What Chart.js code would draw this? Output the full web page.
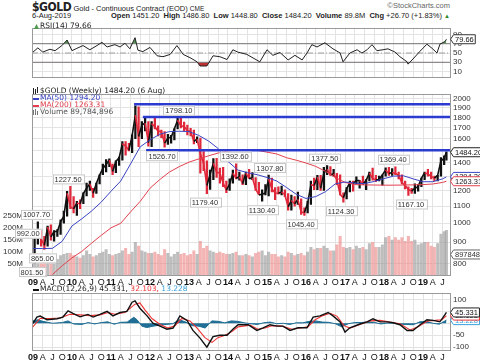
<!DOCTYPE html>
<html lang="en">
<head>
<meta charset="UTF-8">
<title>$GOLD Weekly</title>
<script src="https://cdn.jsdelivr.net/npm/chart.js@4.4.1/dist/chart.umd.min.js"></script>
<style>
    body { margin: 0; width: 480px; height: 363px; overflow: hidden; position: relative; background: #fff;
           font-family: "Liberation Sans", Arial, sans-serif; color: #222; }
    canvas { position: absolute; left: 0; }
    #rsiChart { top: 20px; }
    #priceChart { top: 86px; }
    #macdChart { top: 285px; }
    .hdr { position: absolute; white-space: nowrap; }
</style>
</head>
<body>
<div class="hdr" style="left:32px;top:0px;font-size:7.5px">
    <span style="font:bold 12px 'DejaVu Sans Condensed','DejaVu Sans',sans-serif;letter-spacing:-0.4px">$GOLD</span>
    Gold - Continuous Contract (EOD) <span style="font-size:6.5px">CME</span>
</div>
<div class="hdr" style="right:30px;top:1px;font-size:7.5px;color:#666">&copy;StockCharts.com</div>
<div class="hdr" style="left:32px;top:11px;font-size:7.5px">6-Aug-2019</div>
<div class="hdr" style="right:30px;top:11px;font-size:7.5px">
    <b>Open</b> 1451.20 &nbsp;<b>High</b> 1486.80 &nbsp;<b>Low</b> 1448.80 &nbsp;<b>Close</b> 1484.20 &nbsp;<b>Volume</b> 89.8M &nbsp;<b>Chg</b> +26.70 (+1.83%) <span style="color:#2a8a2a;font-size:6px">&#9650;</span>
</div>

<canvas id="rsiChart" width="480" height="66"></canvas>
<canvas id="priceChart" width="480" height="200"></canvas>
<canvas id="macdChart" width="480" height="78"></canvas>

<script>
// ---- data (weekly $GOLD, one value per month) ----
// months run Jan 2009 (0) .. Aug 2019 (127)
const hi = [
    930, 1007.7, 960, 930, 985, 992, 960, 965, 1020, 1070, 1195, 1227.5,        // 2009
    1160, 1130, 1140, 1185, 1250, 1265, 1215, 1250, 1310, 1390, 1425, 1430,      // 2010
    1390, 1415, 1445, 1575, 1575, 1560, 1635, 1920, 1910, 1760, 1805, 1760,      // 2011
    1760, 1795, 1720, 1680, 1665, 1640, 1630, 1690, 1798.1, 1795, 1755, 1725,    // 2012
    1695, 1680, 1617, 1605, 1490, 1415, 1345, 1433, 1435, 1360, 1365, 1265,      // 2013
    1280, 1345, 1392.6, 1330, 1310, 1330, 1350, 1325, 1290, 1255, 1205, 1240,    // 2014
    1307.8, 1285, 1220, 1225, 1230, 1205, 1180, 1170, 1160, 1190, 1145, 1090,    // 2015
    1130, 1265, 1285, 1305, 1305, 1365, 1377.5, 1370, 1350, 1320, 1310, 1185,    // 2016
    1220, 1265, 1265, 1295, 1270, 1300, 1275, 1330, 1360, 1305, 1300, 1310,      // 2017
    1362, 1365, 1355, 1369.4, 1330, 1310, 1265, 1225, 1215, 1245, 1240, 1285,    // 2018
    1330, 1350, 1330, 1300, 1305, 1440, 1455, 1486.8                             // 2019
];
const lo = [
    801.5, 890, 880, 865, 880, 910, 905, 930, 940, 1000, 1040, 1085,
    1060, 1045, 1085, 1115, 1165, 1200, 1155, 1180, 1245, 1310, 1330, 1370,
    1310, 1325, 1380, 1420, 1460, 1495, 1480, 1600, 1530, 1600, 1670, 1535,
    1530, 1690, 1625, 1610, 1526.7, 1550, 1560, 1590, 1690, 1700, 1670, 1635,
    1625, 1555, 1565, 1321, 1340, 1179.4, 1207, 1275, 1290, 1250, 1225, 1185,
    1200, 1250, 1280, 1270, 1240, 1240, 1285, 1275, 1200, 1180, 1130.4, 1170,
    1165, 1190, 1140, 1175, 1170, 1160, 1075, 1075, 1100, 1110, 1050, 1045.4,
    1060, 1110, 1205, 1205, 1200, 1200, 1310, 1305, 1300, 1240, 1170, 1124.3,
    1145, 1190, 1195, 1245, 1215, 1240, 1205, 1265, 1270, 1260, 1265, 1236,
    1300, 1305, 1305, 1310, 1280, 1245, 1210, 1167.1, 1180, 1180, 1195, 1225,
    1275, 1300, 1280, 1265, 1265, 1300, 1385, 1420
];
const cl = [
    928, 942, 916, 884, 979, 927, 955, 955, 1008, 1040, 1182, 1096,
    1083, 1118, 1115, 1180, 1215, 1245, 1181, 1248, 1307, 1357, 1386, 1421,
    1333, 1410, 1439, 1556, 1536, 1500, 1628, 1825, 1620, 1725, 1746, 1566,
    1740, 1711, 1669, 1664, 1561, 1604, 1614, 1692, 1773, 1719, 1713, 1675,
    1664, 1578, 1595, 1472, 1393, 1234, 1313, 1396, 1327, 1323, 1250, 1202,
    1244, 1321, 1284, 1295, 1246, 1322, 1282, 1287, 1210, 1171, 1175, 1184,
    1279, 1212, 1183, 1182, 1190, 1172, 1095, 1135, 1115, 1142, 1064, 1061,
    1118, 1238, 1234, 1293, 1215, 1321, 1350, 1309, 1316, 1273, 1173, 1152,
    1211, 1253, 1249, 1268, 1269, 1242, 1270, 1322, 1284, 1271, 1276, 1309,
    1345, 1318, 1327, 1319, 1305, 1253, 1233, 1206, 1196, 1215, 1226, 1283,
    1325, 1316, 1298, 1285, 1305, 1413, 1437, 1484.2
];
// weekly volume, millions
const vol = [
    70, 85, 80, 70, 75, 80, 65, 70, 85, 90, 95, 95,
    85, 80, 75, 85, 105, 90, 80, 85, 95, 100, 110, 90,
    85, 90, 95, 105, 115, 90, 100, 140, 125, 105, 100, 95,
    95, 100, 90, 85, 110, 95, 80, 90, 100, 90, 95, 85,
    90, 105, 90, 145, 115, 125, 105, 100, 95, 100, 95, 90,
    90, 95, 100, 85, 85, 90, 85, 80, 95, 100, 105, 85,
    100, 90, 90, 80, 85, 80, 100, 95, 85, 90, 95, 85,
    100, 120, 110, 115, 115, 125, 115, 105, 105, 130, 165, 120,
    115, 120, 110, 125, 115, 120, 110, 135, 140, 120, 120, 130,
    160, 165, 150, 160, 150, 160, 145, 165, 145, 150, 130, 135,
    140, 140, 125, 120, 135, 175, 185, 190
];

const maX = [0, 3, 6, 9, 12, 15, 18, 21, 24, 27, 30, 33, 36, 39, 42, 45, 48, 51, 54, 57, 60, 63,
             66, 69, 72, 75, 78, 81, 84, 87, 90, 93, 96, 99, 102, 105, 108, 111, 114, 117, 120, 123, 126, 127.2];
const ma50 = [869, 869, 870, 905, 985, 1025, 1070, 1125, 1195, 1265, 1390, 1530, 1590, 1640, 1665, 1668,
              1665, 1630, 1580, 1515, 1410, 1345, 1325, 1310, 1290, 1265, 1220, 1175, 1148, 1160, 1192,
              1245, 1258, 1250, 1247, 1262, 1282, 1300, 1302, 1280, 1260, 1260, 1280, 1294.2];
const ma200 = [null, null, 752, 790, 825, 855, 895, 935, 975, 1000, 1065, 1130, 1215, 1275, 1330, 1370,
               1405, 1430, 1455, 1478, 1495, 1502, 1503, 1500, 1485, 1470, 1440, 1420, 1398, 1372, 1335,
               1290, 1255, 1240, 1238, 1237, 1236, 1236, 1237, 1238, 1240, 1244, 1255, 1263.31];

const rsiX = [0, 1.5, 3, 5.2, 6.8, 8.9, 10.5, 12, 13.5, 15.4, 17.5, 19.7, 21.2, 22.8, 25.2, 26.8, 28.3, 29.8,
              31.4, 32.3, 33.8, 36, 38.2, 40, 42.2, 44.3, 46.2, 48.3, 50.5, 51.4, 53.5, 55.4, 57.5, 59.7,
              61.5, 63, 65.8, 68.3, 69.8, 72, 73.8, 76, 78.5, 80.6, 82.8, 84.3, 85.8, 87.4, 89.8, 92.3,
              94.5, 95.4, 97.5, 99.7, 101.2, 102.8, 104.3, 105.8, 107.7, 109.2, 111.4, 112.9, 115.1,
              115.4, 116.9, 119.1, 121.2, 122.8, 124.3, 125.2, 126.8, 127.2];
const rsiY = [52, 61, 52, 58, 55, 66, 78, 55, 60, 66, 57, 66, 73, 63, 68, 63, 71, 59, 83, 56, 53, 62, 44,
              42, 47, 66, 47, 40, 31, 22, 22, 44, 42, 36, 57, 52, 47, 37, 31, 57, 45, 51, 35, 45, 35, 50,
              68, 63, 72, 59, 50, 31, 50, 57, 50, 57, 68, 55, 57, 59, 52, 42, 31, 26, 37, 54, 69, 60, 50,
              69, 75, 79.66];

const macdX = [-0.3, 1.2, 2.2, 4.3, 7.4, 9.2, 10.8, 12.3, 14.5, 16.9, 18.5, 20.6, 22.8, 24.6, 26.8, 28.9,
               30.5, 31.4, 32.9, 35.1, 36.9, 39.1, 41.2, 43.1, 45.2, 47.4, 49.2, 51.4, 53.5, 55.4, 57.5,
               59.7, 61.5, 63.1, 66.2, 68.9, 70.8, 72.9, 75.1, 76.9, 79.1, 81.5, 84.3, 86.2, 88.3, 90.8,
               92.3, 94.5, 96, 97.5, 100.6, 102.8, 104.6, 106.8, 108.9, 110.8, 112.9, 115.1, 116.9,
               119.1, 121.2, 123.1, 125.2, 126.8, 127.2];
const macdY = [-6, 26, 30, 15, 19, 26, 52, 41, 27, 37, 26, 37, 50, 31, 45, 50, 88, 94, 63, 31, 0, -12, -25,
               -20, 31, 12, -30, -62, -100, -56, -50, -50, -25, -6, -6, -30, -19, -6, -12, -12, -30, -19,
               -19, 26, 31, 45, 31, 6, -37, -19, -3, 6, 19, 6, 6, 2, -6, -30, -30, -6, 15, 12, 6, 37, 45.331];
const sigX = [-0.3, 2.2, 5.2, 8.3, 11.4, 14.5, 17.5, 20.6, 23.1, 25.2, 28.3, 31.4, 32.9, 34.5, 36.6, 39.1,
              41.5, 43.7, 45.8, 48.3, 50.5, 52.9, 55.1, 56.9, 59.1, 61.2, 63.1, 66.8, 69.2, 71.4, 73.5,
              76.6, 79.7, 82.2, 84.6, 86.8, 88.9, 91.4, 93.5, 95.7, 97.5, 100.6, 103.7, 106.8, 109.8,
              112.9, 116, 118.5, 121.5, 123.7, 125.8, 127.2];
const sigY = [-19, 20, 20, 22, 38, 35, 32, 35, 45, 38, 45, 80, 85, 55, 20, -5, -20, -10, 20, 10, -20, -60,
              -80, -60, -50, -35, -15, -8, -25, -20, -10, -12, -25, -20, -15, 15, 30, 42, 30, -10, -20,
              -5, 10, 12, 5, -2, -28, -15, 10, 12, 15, 32.103];
const histX = [0, 1.5, 3, 6, 9, 10.8, 12.5, 15, 17, 19, 21, 23, 25, 27, 29, 31, 32, 33.5, 35, 37, 39, 41,
               43, 45, 47, 49, 51, 53, 55, 57, 59, 61, 63, 65, 67, 69, 71, 73, 75, 77, 79, 81, 83, 85, 87,
               89, 91, 93, 95, 97, 99, 101, 103, 105, 107, 109, 111, 113, 115, 117, 119, 121, 123, 125, 127.2];
const histY = [10, 15, 8, 0, 3, 10, -3, -5, 3, -3, 3, 6, -4, 4, 5, 25, 15, -12, -18, -12, -8, -5, -2, 15,
               5, -10, -12, -20, 10, 8, 2, 10, 8, 2, -2, -5, 2, 5, -2, 0, -5, 2, 2, 8, 10, 5, 4, -2, -15,
               -2, 3, 3, 6, 4, -3, 1, 0, -4, -5, -6, 6, 8, 0, -4, 13.228];

// drawn horizontal trend lines
const trendLevel = [1937, 1805, 1500];
const trendFrom = [31.1, 33.8, 34.8];

// high / low call-outs
const noteMonth = [1.1, -1.5, 2.9, -0.3, 10.8, 39.7, 44.9, 52.9, 62.2, 70.5, 72.9, 82.5, 89.8, 94.8, 110.8, 116.3];
const notePrice = [1007.7, 992.0, 865.0, 801.5, 1227.5, 1526.7, 1798.1, 1179.4, 1392.6, 1130.4, 1307.8,
                   1045.4, 1377.5, 1124.3, 1369.4, 1167.1];
const noteAbove = [true, false, false, false, true, false, true, false, true, false, true, false, true, false, true, false];

const priceTicks = [800, 900, 1000, 1100, 1200, 1300, 1400, 1500, 1600, 1700, 1800, 1900, 2000];
const volTicks = [50, 100, 150, 200, 250];
const rsiTicks = [10, 30, 50, 70, 90];
const macdTicks = [-100, -50, 0, 50, 100];
const qLetters = ['A', 'J', 'O'];

// ---- helpers ----
const F = '"Liberation Sans", Arial, sans-serif';
const LF = '"DejaVu Sans", Verdana, sans-serif';
const UP = '#111', DOWN = '#e0283a';
const xMin = -0.3, xMax = 128.3;
const pts = (xs, ys) => xs.map((x, i) => ({ x: x, y: ys[i] }));
const barX = hi.map((v, i) => i === hi.length - 1 ? 127.2 : i + 0.5);
const isUp = cl.map((c, i) => c >= (i ? cl[i - 1] : 884));

function xAxis(showLabels, h) {
    return {
        type: 'linear', min: xMin, max: xMax, offset: false,
        afterBuildTicks: s => { s.ticks = []; for (let m = 0; m <= 126; m += 3) s.ticks.push({ value: m }); },
        afterFit: s => { s.height = h; },
        grid: { color: '#e3e3e3', drawTicks: false, offset: false },
        border: { display: false },
        ticks: {
            display: showLabels, autoSkip: false, maxRotation: 0, padding: 1, color: '#111',
            font: c => ({ family: F, size: 9, weight: (c.tick && c.tick.value % 12 === 0) ? 'bold' : 'normal' }),
            callback: v => v % 12 === 0 ? String(9 + v / 12).padStart(2, '0') : qLetters[(v % 12) / 3 - 1]
        }
    };
}

function rightAxis(min, max, ticks, type) {
    return {
        type: type || 'linear', position: 'right', min: min, max: max,
        afterBuildTicks: s => { s.ticks = ticks.map(v => ({ value: v })); },
        afterFit: s => { s.width = 30; },
        grid: { color: '#e3e3e3', drawTicks: false },
        border: { display: false },
        ticks: { autoSkip: false, padding: 3, color: '#333', font: { family: F, size: 8 }, callback: v => String(v) }
    };
}

function tag(ctx, x, y, text, border, color) {
    ctx.font = '7.5px ' + F;
    const w = ctx.measureText(text).width + 3;
    ctx.beginPath();
    ctx.moveTo(x, y);
    ctx.lineTo(x + 3, y - 4.5);
    ctx.lineTo(x + 3 + w, y - 4.5);
    ctx.lineTo(x + 3 + w, y + 4.5);
    ctx.lineTo(x + 3, y + 4.5);
    ctx.closePath();
    ctx.fillStyle = '#fff';
    ctx.fill();
    ctx.strokeStyle = border;
    ctx.lineWidth = 1;
    ctx.stroke();
    ctx.fillStyle = color;
    ctx.textAlign = 'left';
    ctx.textBaseline = 'middle';
    ctx.fillText(text, x + 4.5, y + 0.5);
}

function note(ctx, x, y, text) {
    ctx.font = '7.5px ' + F;
    const w = ctx.measureText(text).width + 4;
    ctx.fillStyle = '#fff';
    ctx.fillRect(x - w / 2, y - 5, w, 10);
    ctx.strokeStyle = '#c8c8c8';
    ctx.lineWidth = 1;
    ctx.strokeRect(Math.round(x - w / 2) + 0.5, y - 4.5, Math.round(w), 9);
    ctx.fillStyle = '#333';
    ctx.textAlign = 'center';
    ctx.textBaseline = 'middle';
    ctx.fillText(text, x, y + 0.5);
}

function legendText(ctx, x, y, parts) {
    ctx.font = '7.5px ' + LF;
    ctx.textAlign = 'left';
    ctx.textBaseline = 'middle';
    parts.forEach(p => {
        ctx.fillStyle = p[1];
        ctx.fillText(p[0], x, y);
        x += ctx.measureText(p[0]).width;
    });
}

function frame(draw) {
    return {
        id: 'frame',
        afterDraw(chart) {
            const ctx = chart.ctx, a = chart.chartArea;
            ctx.save();
            ctx.strokeStyle = '#9a9a9a';
            ctx.lineWidth = 1;
            ctx.strokeRect(Math.round(a.left) + 0.5, Math.round(a.top) + 0.5, Math.round(a.right - a.left), Math.round(a.bottom - a.top) - 1);
            draw(chart, ctx, a);
            ctx.restore();
        }
    };
}

const base = {
    responsive: false,
    animation: false,
    events: [],
    elements: { point: { radius: 0 }, line: { tension: 0 } },
    plugins: { legend: { display: false }, tooltip: { enabled: false } }
};

// ---- RSI panel ----
new Chart(document.getElementById('rsiChart'), {
    type: 'line',
    data: {
        datasets: [
            { data: pts(rsiX, rsiY), borderColor: '#222', borderWidth: 1, order: 1 },
            { data: pts(rsiX, rsiY), borderColor: 'transparent', borderWidth: 0, order: 3,
              fill: { target: { value: 70 }, above: '#4f9a4f', below: 'transparent' } },
            { data: pts(rsiX, rsiY), borderColor: 'transparent', borderWidth: 0, order: 3,
              fill: { target: { value: 30 }, above: 'transparent', below: '#c03030' } },
            { data: [{ x: xMin, y: 70 }, { x: xMax, y: 70 }], borderColor: '#7a7a7a', borderWidth: 1, order: 2 },
            { data: [{ x: xMin, y: 30 }, { x: xMax, y: 30 }], borderColor: '#7a7a7a', borderWidth: 1, order: 2 },
            { data: [{ x: xMin, y: 50 }, { x: xMax, y: 50 }], borderColor: '#a0a0a0', borderWidth: 1,
              borderDash: [6, 2, 1, 2], order: 2 }
        ]
    },
    options: Object.assign({}, base, {
        layout: { padding: { left: 32, top: 1, right: 0, bottom: 0 } },
        scales: { x: xAxis(false, 2), y: rightAxis(-4.3, 104.3, rsiTicks) }
    }),
    plugins: [frame((chart, ctx, a) => {
        ctx.fillStyle = '#4f9a4f';
        ctx.beginPath(); ctx.moveTo(34, 9); ctx.lineTo(36.5, 4); ctx.lineTo(39, 9); ctx.closePath(); ctx.fill();
        legendText(ctx, 40, 6, [['RSI(14) 79.66', '#222']]);
        tag(ctx, a.right + 0.5, chart.scales.y.getPixelForValue(79.66), '79.66', '#333', '#111');
    })]
});

// ---- price panel ----
const priceSets = [];
trendLevel.forEach((lvl, i) => priceSets.push({
    type: 'line', data: [{ x: trendFrom[i], y: lvl }, { x: xMax, y: lvl }], yAxisID: 'y',
    borderColor: '#2b3bd0', borderWidth: 2.5, order: 1
}));
priceSets.push(
    { type: 'line', data: pts(maX, ma50), yAxisID: 'y', borderColor: '#3a44c4', borderWidth: 1, order: 2 },
    { type: 'line', data: pts(maX, ma200), yAxisID: 'y', borderColor: '#e2404e', borderWidth: 1, order: 3 },
    { type: 'line', data: pts(barX, cl), yAxisID: 'y', borderWidth: 1.6, order: 4,
      segment: { borderColor: c => c.p1.parsed.y >= c.p0.parsed.y ? UP : DOWN } },
    { type: 'bar', data: barX.map((x, i) => ({ x: x, y: [lo[i], hi[i]] })), yAxisID: 'y', grouped: false,
      barThickness: 1.6, backgroundColor: isUp.map(u => u ? UP : DOWN), order: 4 },
    { type: 'bar', data: barX.map((x, i) => ({ x: x, y: vol[i] })), yAxisID: 'vol', grouped: false,
      barThickness: 2.4, backgroundColor: isUp.map(u => u ? 'rgba(150,150,150,0.62)' : 'rgba(236,130,130,0.6)'), order: 5 }
);

new Chart(document.getElementById('priceChart'), {
    type: 'line',
    data: { datasets: priceSets },
    options: Object.assign({}, base, {
        layout: { padding: { left: 0, top: 0, right: 0, bottom: 0 } },
        scales: {
            x: xAxis(true, 10),
            y: rightAxis(746, 2054, priceTicks, 'logarithmic'),
            vol: {
                type: 'linear', position: 'left', min: 0, max: 760,
                afterBuildTicks: s => { s.ticks = volTicks.map(v => ({ value: v })); },
                afterFit: s => { s.width = 32; },
                grid: { display: false }, border: { display: false },
                ticks: { autoSkip: false, padding: 1, color: '#333', font: { family: F, size: 8 }, callback: v => v + 'M' }
            }
        }
    }),
    plugins: [frame((chart, ctx, a) => {
        const xs = chart.scales.x, ys = chart.scales.y;
        noteMonth.forEach((m, i) => {
            const y = ys.getPixelForValue(notePrice[i]) + (noteAbove[i] ? -7 : 9);
            note(ctx, xs.getPixelForValue(m), y, notePrice[i].toFixed(2));
        });
        // legend
        ctx.fillStyle = '#222';
        ctx.fillRect(33, 2, 1, 6); ctx.fillRect(35, 3, 1, 5); ctx.fillRect(37, 1, 1, 6);
        legendText(ctx, 40, 5, [['$GOLD (Weekly) 1484.20 (6 Aug)', '#222']]);
        ctx.fillStyle = '#3a44c4'; ctx.fillRect(33, 12, 6, 2);
        legendText(ctx, 40, 12.5, [['MA(50) 1294.20', '#3a44c4']]);
        ctx.fillStyle = '#e2404e'; ctx.fillRect(33, 19, 6, 2);
        legendText(ctx, 40, 19.5, [['MA(200) 1263.31', '#e2404e']]);
        ctx.fillStyle = '#777';
        ctx.fillRect(33, 24, 1, 5); ctx.fillRect(35, 23, 1, 6); ctx.fillRect(37, 25, 1, 4);
        legendText(ctx, 40, 26.5, [['Volume 89,784,896', '#555']]);
        // right side value tags
        const r = a.right + 0.5;
        tag(ctx, r, chart.scales.vol.getPixelForValue(89.784896), '89784896', '#666', '#333');
        tag(ctx, r, ys.getPixelForValue(1294.2), '1294.20', '#3a44c4', '#222');
        tag(ctx, r, ys.getPixelForValue(1263.31), '1263.31', '#e2404e', '#222');
        tag(ctx, r, ys.getPixelForValue(1484.2), '1484.20', '#222', '#111');
    })]
});

// ---- MACD panel ----
new Chart(document.getElementById('macdChart'), {
    type: 'line',
    data: {
        datasets: [
            { data: pts(macdX, macdY), borderColor: '#111', borderWidth: 1.4, order: 1 },
            { data: pts(sigX, sigY), borderColor: '#f03434', borderWidth: 1.1, order: 2 },
            { data: pts(histX, histY), borderColor: '#1f6e95', backgroundColor: '#1f6e95', borderWidth: 1,
              fill: { target: { value: 0 } }, order: 3 }
        ]
    },
    options: Object.assign({}, base, {
        layout: { padding: { left: 32, top: 1, right: 0, bottom: 0 } },
        scales: { x: xAxis(true, 12), y: rightAxis(-116, 127.5, macdTicks) }
    }),
    plugins: [frame((chart, ctx, a) => {
        ctx.fillStyle = '#111'; ctx.fillRect(33, 4, 6, 2);
        legendText(ctx, 40, 4.5, [['MACD(12,26,9) 45.331, ', '#222'], ['32.103, ', '#f03434'], ['13.228', '#3aa0dc']]);
        const ys = chart.scales.y, r = a.right + 0.5;
        tag(ctx, r, ys.getPixelForValue(13.228), '13.228', '#3aa0dc', '#3aa0dc');
        tag(ctx, r, ys.getPixelForValue(32.103), '32.103', '#f03434', '#222');
        tag(ctx, r, ys.getPixelForValue(45.331), '45.331', '#222', '#111');
    })]
});
</script>
</body>
</html>
